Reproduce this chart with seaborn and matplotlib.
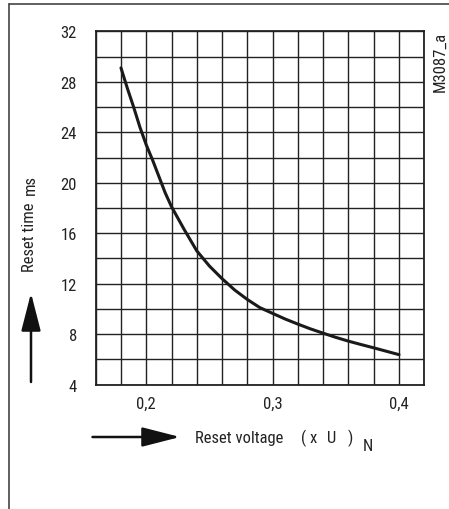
import matplotlib
matplotlib.use("Agg")
import os
import matplotlib.pyplot as plt
import seaborn as sns
import pandas as pd
import numpy as np
from matplotlib.lines import Line2D
from matplotlib import font_manager
from matplotlib.font_manager import FontProperties

# Data
voltage = [0.18, 0.185, 0.19, 0.195, 0.20, 0.205, 0.21, 0.215, 0.22, 0.23, 0.24, 0.25, 0.26,
           0.27, 0.28, 0.29, 0.30, 0.31, 0.32, 0.33, 0.34, 0.35, 0.36, 0.37, 0.38, 0.39, 0.40]
reset_time = [29.1, 27.5, 26.0, 24.4, 23.0, 21.8, 20.5, 19.2, 18.1, 16.3, 14.6, 13.4, 12.4,
              11.5, 10.75, 10.1, 9.65, 9.2, 8.8, 8.42, 8.08, 7.75, 7.45, 7.18, 6.92, 6.65, 6.38]
x_tick_vals = [0.2, 0.3, 0.4]
x_tick_labels = ["0,2", "0,3", "0,4"]
y_tick_vals = [4, 8, 12, 16, 20, 24, 28, 32]

# pick a regular-weight condensed face deterministically
cands = [f for f in font_manager.fontManager.ttflist if f.name == "Roboto Condensed"]
def score(f):
    b = os.path.basename(f.fname).lower()
    s = 0
    if "italic" in b or f.style != "normal":
        s += 100
    if "regular" in b:
        s -= 10
    w = f.weight if isinstance(f.weight, int) else 400
    s += abs(w - 400) / 10
    return (s, b)
cands.sort(key=score)
sns.set_theme(style="white")
if cands:
    font_path = cands[0].fname
    plt.rcParams['font.family'] = ['Roboto Condensed', 'DejaVu Sans']
else:
    font_path = None
    plt.rcParams['font.family'] = ['Archivo Narrow', 'DejaVu Sans']

FS = 12
TC = "#222222"

def fp(size=FS):
    if font_path:
        return FontProperties(fname=font_path, size=size)
    return FontProperties(size=size)

W, H = 449, 510
fig = plt.figure(figsize=(W / 100, H / 100), dpi=100)
ax = fig.add_axes([95.7 / W, 1 - 385.7 / H, (424.3 - 95.7) / W, (385.7 - 32.3) / H])

df = pd.DataFrame({"v": voltage, "t": reset_time})
sns.lineplot(data=df, x="v", y="t", ax=ax, color="#1a1a1a", linewidth=2.2)

ax.set_xlim(0.16, 0.42)
ax.set_ylim(4, 32)
ax.set_xticks(np.round(np.arange(0.16, 0.4201, 0.02), 2))
ax.set_yticks(np.arange(4, 32.01, 2))
ax.set_xticklabels([x_tick_labels[x_tick_vals.index(round(v, 2))] if round(v, 2) in x_tick_vals else ""
                    for v in ax.get_xticks()], fontproperties=fp())
ax.set_yticklabels([str(int(v)) if int(v) in y_tick_vals else "" for v in ax.get_yticks()],
                   fontproperties=fp())
ax.grid(True, color="#222222", linewidth=1.0)
ax.tick_params(axis="both", length=0, colors=TC)
ax.tick_params(axis="x", pad=8)
ax.tick_params(axis="y", pad=13.5)
for s in ax.spines.values():
    s.set_visible(True)
    s.set_color("#222222")
    s.set_linewidth(1.3)
ax.set_xlabel("")
ax.set_ylabel("")

def fx(px):
    return px / W

def fy(py):
    return 1 - py / H

# Outer frame (left and top lines)
fig.add_artist(Line2D([fx(9), fx(9)], [fy(5), 0], color="#444444", linewidth=1.2))
fig.add_artist(Line2D([fx(9), 1], [fy(5), fy(5)], color="#444444", linewidth=1.2))

arrow = dict(arrowstyle="-|>,head_length=1.95,head_width=0.5", color="#111111", lw=1.8,
             shrinkA=0, shrinkB=0)

# Y axis label and arrow
fig.text(fx(30), fy(237), "Reset time", rotation=90, ha="center", va="center", fontproperties=fp(), color=TC)
fig.text(fx(30), fy(185), "ms", rotation=90, ha="center", va="center", fontproperties=fp(), color=TC)
ax.annotate("", xy=(fx(31), fy(294)), xytext=(fx(31), fy(383)),
            xycoords="figure fraction", textcoords="figure fraction", arrowprops=arrow)

# X axis label and arrow
ax.annotate("", xy=(fx(180), fy(438)), xytext=(fx(92.5), fy(438)),
            xycoords="figure fraction", textcoords="figure fraction", arrowprops=arrow)
fig.text(fx(195), fy(438.5), "Reset voltage", ha="left", va="center", fontproperties=fp(), color=TC)
fig.text(fx(301), fy(438.5), "(", ha="left", va="center", fontproperties=fp(), color=TC)
fig.text(fx(310), fy(438.5), "x", ha="left", va="center", fontproperties=fp(), color=TC)
fig.text(fx(327), fy(438.5), "U", ha="left", va="center", fontproperties=fp(), color=TC)
fig.text(fx(348), fy(438.5), ")", ha="left", va="center", fontproperties=fp(), color=TC)
fig.text(fx(363), fy(447), "N", ha="left", va="center", fontproperties=fp(), color=TC)

# Figure code
fig.text(fx(440), fy(62), "M3087_a", rotation=90, ha="center", va="center", fontproperties=fp(), color=TC)

fig.savefig("out.png", dpi=100, facecolor="white")
